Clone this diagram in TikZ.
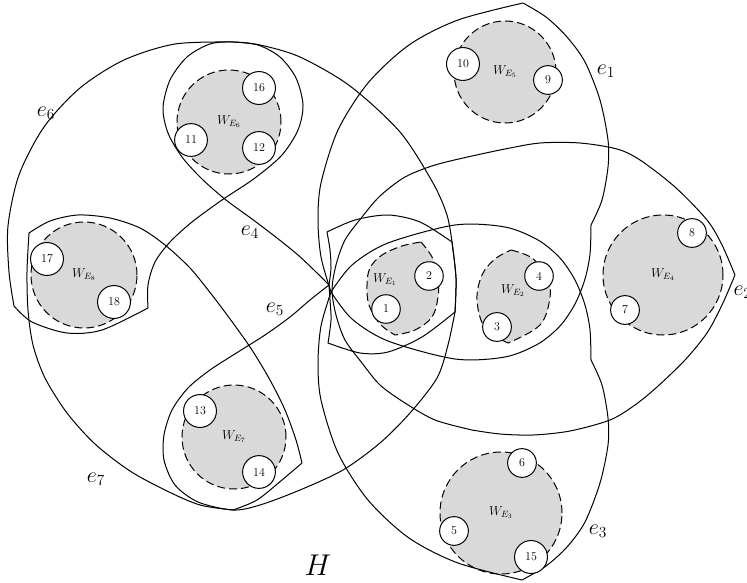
\documentclass[tikz,border=0pt]{standalone}
\usepackage{fix-cm}
\usepackage{amsmath}

\begin{document}
\begin{tikzpicture}[
    x=1pt, y=-1pt,
    line width=1pt,
    vertex/.style={circle, draw, fill=white, inner sep=6.6pt, font=\fontsize{12}{14}\selectfont},
    wset/.style={circle, draw, dash pattern=on 8pt off 4pt, fill=black!15, inner sep=0pt, minimum size=#1, font=\fontsize{13}{15}\selectfont},
    wpart/.style={draw, fill=black!15, dash pattern=on 8pt off 4pt},
    hedge/.style={draw, line width=1pt, line join=round},
    elabel/.style={font=\fontsize{22}{26}\selectfont, inner sep=0pt},
]
    \useasboundingbox (0,0) rectangle (747,583);

    % Vertex sets W_E
    \node[wset=102pt] (wE5) at (505,72) {$W_{E_5}$};
    \node[wset=104pt] (wE6) at (229,122) {$W_{E_6}$};
    \node[wset=106pt] (wE8) at (84,275) {$W_{E_8}$};
    \node[wset=104pt] (wE7) at (234,437) {$W_{E_7}$};
    \node[wset=122pt] (wE3) at (501,513) {$W_{E_3}$};
    \node[wset=120pt] (wE4) at (663,275) {$W_{E_4}$};

    \path[wpart] plot[smooth, tension=0.6] coordinates {(421,242) (432,257) (438,277) (438,297) (432,317) (415,330) (395,335)}
        -- plot[smooth, tension=0.6] coordinates {(395,335) (380,324) (369,305) (367,285) (370,268) (382,255) (402,246) (421,242)} -- cycle;
    \node[font=\fontsize{13}{15}\selectfont] (wE1) at (385,280) {$W_{E_1}$};

    \path[wpart] plot[smooth, tension=0.6] coordinates {(511,250) (532,258) (547,277) (550,297) (540,325) (508,343)}
        -- plot[smooth, tension=0.6] coordinates {(508,343) (485,328) (477,300) (482,275) (495,259) (511,250)} -- cycle;
    \node[font=\fontsize{13}{15}\selectfont] (wE2) at (513,291) {$W_{E_2}$};

    % Hyperedges
    % e1
    \path[hedge] plot[smooth] coordinates {(523,3) (458,20) (409,45) (368,83) (338,130) (321,183) (318,220) (321,257) (331,292)}
        -- plot[smooth] coordinates {(331,292) (352,319) (388,341) (455,359) (505,357) (538,344) (560,326) (575,304) (585,279) (590,254) (591,225)}
        -- plot[smooth] coordinates {(591,225) (602,200) (608,167) (608,140) (600,100) (585,62) (567,37) (546,17) (523,3)} -- cycle;
    % e3
    \path[hedge] plot[smooth] coordinates {(522,580) (458,563) (409,538) (368,500) (338,453) (321,400) (318,363) (321,326) (331,292)}
        -- plot[smooth] coordinates {(331,292) (352,265) (388,243) (455,225) (505,227) (538,240) (560,258) (575,280) (585,305) (590,330) (591,360)}
        -- plot[smooth] coordinates {(591,360) (602,385) (608,418) (608,445) (600,483) (585,522) (567,547) (546,566) (522,580)} -- cycle;
    % e2
    \path[hedge] plot[smooth] coordinates {(472,156) (435,165) (405,177) (380,196) (362,217) (345,240) (336,265) (332,290) (336,315) (345,340) (362,363) (380,385) (405,403) (435,420) (472,430)}
        -- plot[smooth] coordinates {(472,430) (500,434) (533,435) (570,431) (610,420) (635,405) (657,387) (685,360) (707,333) (722,305) (735,275)}
        -- plot[smooth] coordinates {(735,275) (722,245) (707,220) (675,187) (640,160) (617,149) (580,143) (540,143) (505,149) (472,156)} -- cycle;
    % e4
    \path[hedge] plot[smooth] coordinates {(329,285) (315,271) (298,255) (277,238) (252,219) (226,200) (202,179) (182,157) (168,133) (163,108) (170,80) (187,57) (210,44) (233,42) (260,45) (300,57) (350,86) (400,132) (433,183) (447,215) (452,242)}
        -- plot[smooth] coordinates {(452,242) (456,278) (455,312)}
        -- plot[smooth] coordinates {(455,312) (422,337) (388,352) (360,353) (328,343)}
        -- plot[smooth] coordinates {(328,343) (331,320) (330,300) (329,285)} -- cycle;
    % e5
    \path[hedge] plot[smooth] coordinates {(329,285) (310,300) (290,317) (265,335) (238,352) (210,370) (188,388) (172,410) (164,435) (164,460) (175,485) (198,502) (233,510) (260,505) (300,490) (343,470) (380,443) (410,413) (437,378) (448,345) (455,312)}
        -- plot[smooth] coordinates {(455,312) (456,278) (452,242)}
        -- plot[smooth] coordinates {(452,242) (420,222) (388,215) (355,220) (327,232)}
        -- plot[smooth] coordinates {(327,232) (330,250) (331,268) (329,285)} -- cycle;
    % e6
    \path[hedge] plot[smooth] coordinates {(233,42) (175,44) (124,60) (80,88) (44,127) (19,175) (8,226) (9,272) (14,306)}
        -- plot[smooth] coordinates {(14,306) (32,322) (67,333) (102,330) (148,308)}
        -- plot[smooth] coordinates {(148,308) (148,285) (155,262) (170,242) (192,222) (222,200) (255,178) (282,155) (298,130) (303,105) (296,78) (280,57) (258,45) (233,42)} -- cycle;
    % e7
    \path[hedge] plot[smooth] coordinates {(29,233) (50,221) (78,215) (110,218) (140,228) (165,245) (190,268) (212,295) (233,323) (252,350) (270,380) (285,410) (296,440) (302,463)}
        -- plot[smooth] coordinates {(302,463) (282,480) (257,500) (233,510)}
        -- plot[smooth] coordinates {(233,510) (200,505) (167,491) (130,471) (95,444) (67,413) (45,378) (33,345) (28,310) (27,272) (29,233)} -- cycle;

    % Vertices
    \node[vertex] (v1) at (386,309) {1};
    \node[vertex] (v2) at (429,276) {2};
    \node[vertex] (v3) at (497,327) {3};
    \node[vertex] (v4) at (539,276) {4};
    \node[vertex] (v5) at (454,531) {5};
    \node[vertex] (v6) at (522,463) {6};
    \node[vertex] (v7) at (625,310) {7};
    \node[vertex] (v8) at (692,233) {8};
    \node[vertex] (v9) at (548,80) {9};
    \node[vertex] (v10) at (463,64) {10};
    \node[vertex] (v11) at (191,140) {11};
    \node[vertex] (v12) at (259,148) {12};
    \node[vertex] (v13) at (200,411) {13};
    \node[vertex] (v14) at (259,472) {14};
    \node[vertex] (v15) at (531,557) {15};
    \node[vertex] (v16) at (259,88) {16};
    \node[vertex] (v17) at (47,259) {17};
    \node[vertex] (v18) at (114,302) {18};

    % Labels
    \node[elabel] (le1) at (606,71) {$e_1$};
    \node[elabel, anchor=west] (le2) at (733,292) {$e_2$};
    \node[elabel] (le3) at (598,531) {$e_3$};
    \node[elabel] (le4) at (250,232) {$e_4$};
    \node[elabel] (le5) at (275,309) {$e_5$};
    \node[elabel] (le6) at (46,113) {$e_6$};
    \node[elabel] (le7) at (96,479) {$e_7$};
    \node[font=\fontsize{30}{34}\selectfont] (title) at (318,565) {$H$};
\end{tikzpicture}
\end{document}
